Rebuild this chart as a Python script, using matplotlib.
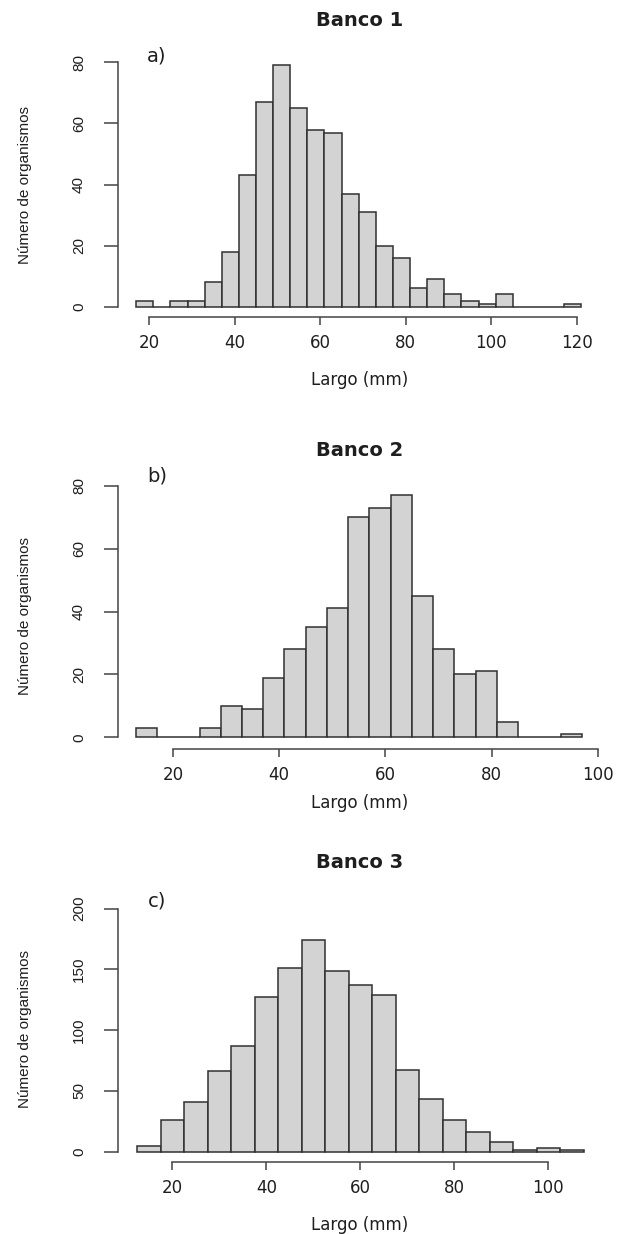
import numpy as np
import matplotlib.pyplot as plt

# conteos por clase de talla
banco1_inicio, banco1_ancho = 17, 4
banco1_conteos = [2, 0, 2, 2, 8, 18, 43, 67, 79, 65, 58, 57, 37, 31, 20, 16, 6, 9, 4, 2, 1, 4, 0, 0, 0, 1]

banco2_inicio, banco2_ancho = 13, 4
banco2_conteos = [3, 0, 0, 3, 10, 9, 19, 28, 35, 41, 70, 73, 77, 45, 28, 20, 21, 5, 0, 0, 1]

banco3_inicio, banco3_ancho = 12.5, 5
banco3_conteos = [5, 26, 41, 66, 87, 127, 151, 174, 149, 137, 129, 67, 43, 26, 16, 8, 1, 3, 1]

titulos = ["Banco 1", "Banco 2", "Banco 3"]
letras = ["a)", "b)", "c)"]
xticks1 = [20, 40, 60, 80, 100, 120]
xticks2 = [20, 40, 60, 80, 100]
xticks3 = [20, 40, 60, 80, 100]
yticks1 = [0, 20, 40, 60, 80]
yticks2 = [0, 20, 40, 60, 80]
yticks3 = [0, 50, 100, 150, 200]

W, H = 619, 1234
fig = plt.figure(figsize=(W / 100, H / 100), dpi=100)

GRIS_EJE = "#444444"
TEXTO = "#1e1e1e"


def ftext(x, y, s, **kw):
    fig.text(x / W, 1 - y / H, s, ha="center", va="center", color=TEXTO, **kw)


def panel(inicio, ancho, conteos, xticks, yticks, xmap, ymap, spine_x, spine_y, caja):
    xa, pxa, xb, pxb = xmap
    ya, pya, yb, pyb = ymap
    x0, x1, y0, y1 = caja
    ax = fig.add_axes([x0 / W, 1 - y1 / H, (x1 - x0) / W, (y1 - y0) / H])
    sx = (xb - xa) / (pxb - pxa)
    sy = (yb - ya) / (pyb - pya)
    ax.set_xlim(xa + (x0 - pxa) * sx, xa + (x1 - pxa) * sx)
    ax.set_ylim(ya + (y1 - pya) * sy, ya + (y0 - pya) * sy)
    ax.patch.set_alpha(0)

    izq = inicio + ancho * np.arange(len(conteos))
    ax.bar(izq, conteos, width=ancho, align="edge", color="#d3d3d3",
           edgecolor="#303030", linewidth=1.1)

    for lado in ["top", "right"]:
        ax.spines[lado].set_visible(False)
    ax.spines["left"].set_position(("data", xa + (spine_x - pxa) * sx))
    ax.spines["bottom"].set_position(("data", ya + (spine_y - pya) * sy))
    ax.spines["left"].set_bounds(yticks[0], yticks[-1])
    ax.spines["bottom"].set_bounds(xticks[0], xticks[-1])
    for lado in ["left", "bottom"]:
        ax.spines[lado].set_color(GRIS_EJE)
        ax.spines[lado].set_linewidth(1.1)

    ax.set_xticks(xticks)
    ax.set_yticks(yticks)
    ax.tick_params(axis="x", length=5.8, width=1.1, color=GRIS_EJE, pad=6.5,
                   labelsize=12, labelcolor=TEXTO)
    ax.tick_params(axis="y", length=10, width=1.1, color=GRIS_EJE, pad=13,
                   labelsize=11, labelcolor=TEXTO, labelrotation=90)
    for t in ax.get_yticklabels():
        t.set_va("center")
        t.set_family("Liberation Sans")
    return ax


panel(banco1_inicio, banco1_ancho, banco1_conteos, xticks1, yticks1,
      (20, 149, 120, 577), (0, 306.7, 80, 62.3), 118, 317.3, (100, 610, 50, 326))
panel(banco2_inicio, banco2_ancho, banco2_conteos, xticks2, yticks2,
      (20, 173, 100, 597.7), (0, 737.3, 80, 485.7), 118, 749, (100, 610, 475, 758))
panel(banco3_inicio, banco3_ancho, banco3_conteos, xticks3, yticks3,
      (20, 172.3, 100, 548.3), (0, 1151.7, 200, 908.5), 118, 1161.7, (100, 610, 898, 1170))

# titulos, letras y etiquetas de ejes
for titulo, letra, ty, ly, yl, xl in zip(titulos, letras,
                                       [20, 450, 863], [56, 476, 901],
                                       [185, 616, 1029], [380, 803, 1225]):
    ftext(360, ty, titulo, fontsize=14, fontweight="bold")
    ftext(157, ly, letra, fontsize=14)
    ftext(25, yl, "Número de organismos", fontsize=11, rotation=90, family="Liberation Sans")
    ftext(360, xl, "Largo (mm)", fontsize=12)

fig.savefig("out.png", dpi=100, facecolor="white")
